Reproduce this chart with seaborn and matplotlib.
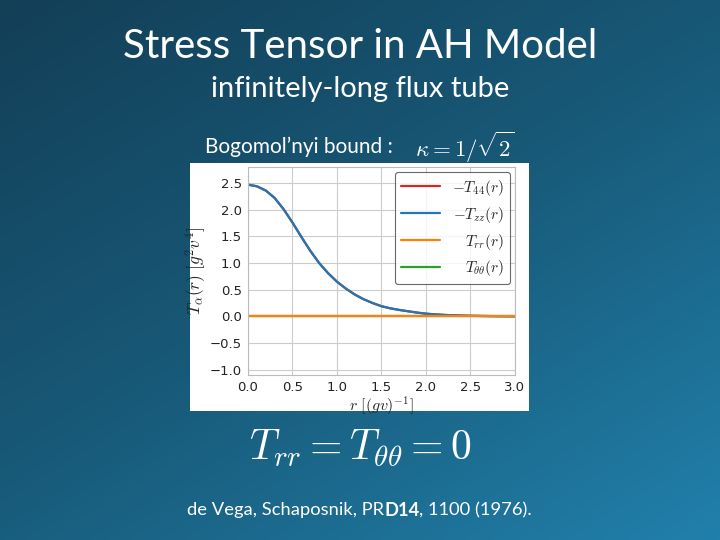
import numpy as np
import matplotlib
matplotlib.use("Agg")
import matplotlib.pyplot as plt
from matplotlib.colors import LinearSegmentedColormap
import seaborn as sns

# ── data ──────────────────────────────────────────────────────────────────────
r_vals = [0.0, 0.1, 0.2, 0.3, 0.4, 0.5, 0.6, 0.7, 0.8, 0.9, 1.0,
          1.1, 1.2, 1.3, 1.4, 1.5, 1.6, 1.7, 1.8, 1.9, 2.0,
          2.1, 2.2, 2.3, 2.4, 2.5, 2.6, 2.7, 2.8, 2.9, 3.0]
minus_t44 = [2.47, 2.44, 2.36, 2.22, 2.01, 1.76, 1.49, 1.23, 1.00, 0.81, 0.65,
             0.52, 0.41, 0.32, 0.25, 0.19, 0.15, 0.12, 0.095, 0.07, 0.05,
             0.037, 0.027, 0.02, 0.014, 0.01, 0.007, 0.005, 0.003, 0.002, 0.001]
minus_tzz = list(minus_t44)
t_rr = [0.0] * len(r_vals)
t_thth = [0.0] * len(r_vals)

labels = [r"$-T_{44}(r)$", r"$-T_{zz}(r)$", r"$T_{rr}(r)$", r"$T_{\theta\theta}(r)$"]
colors = ["#d62728", "#1f77b4", "#ff7f0e", "#2ca02c"]
yticks = [-1.0, -0.5, 0.0, 0.5, 1.0, 1.5, 2.0, 2.5]
xticks = [0.0, 0.5, 1.0, 1.5, 2.0, 2.5, 3.0]

sns.set_style("whitegrid")
plt.rcParams["mathtext.fontset"] = "cm"

fig = plt.figure(figsize=(7.2, 5.4), dpi=100)
renderer = fig.canvas.get_renderer()

# ── slide background gradient ─────────────────────────────────────────────────
bg = fig.add_axes([0, 0, 1, 1], zorder=-10)
cmap = LinearSegmentedColormap.from_list("slide", ["#133f57", "#185a79", "#2180ab"])
yy, xx = np.mgrid[0:1:200j, 0:1:200j]
grad = 0.45 * xx + 0.55 * yy
bg.imshow(grad, cmap=cmap, extent=[0, 1, 0, 1], origin="upper", aspect="auto")
bg.axis("off")

fig.text(0.5, 0.913, "Stress Tensor in AH Model", ha="center", va="center",
         color="white", fontsize=29, family="Lato")
fig.text(0.5, 0.835, "infinitely-long flux tube", ha="center", va="center",
         color="white", fontsize=21, family="Lato")
fig.text(0.285, 0.728, "Bogomol\u2019nyi bound :", ha="left", va="center",
         color="white", fontsize=15, family="Lato")
fig.text(0.577, 0.728, r"$\kappa = 1/\sqrt{2}$", ha="left", va="center",
         color="white", fontsize=16.5)
fig.text(0.5, 0.17, r"$T_{rr} = T_{\theta\theta} = 0$", ha="center", va="center",
         color="white", fontsize=30)

# citation, with the volume in bold, laid out piece by piece
x0 = 0.26
for piece, weight in [("de Vega, Schaposnik, PR", "normal"), ("D14", "bold"),
                      (", 1100 (1976).", "normal")]:
    t = fig.text(x0, 0.055, piece, ha="left", va="center", color="white",
                 fontsize=13.2, family="Lato", fontweight=weight)
    bb = t.get_window_extent(renderer)
    x0 += bb.width / fig.bbox.width

# white panel behind the embedded plot
panel = fig.add_axes([0.2639, 0.2389, 0.4708, 0.459], zorder=1)
panel.set_facecolor("white")
panel.set_xticks([])
panel.set_yticks([])
panel.grid(False)
for s in panel.spines.values():
    s.set_visible(False)

# ── embedded plot ─────────────────────────────────────────────────────────────
ax = fig.add_axes([0.3444, 0.3056, 0.3708, 0.385], zorder=2)
order = [0, 1, 3, 2]   # green drawn under orange
series = [minus_t44, minus_tzz, t_rr, t_thth]
handles = {}
for i in order:
    sns.lineplot(x=r_vals, y=series[i], ax=ax, color=colors[i],
                 linewidth=1.6, label=labels[i])
    handles[i] = ax.get_lines()[-1]

ax.set_xlim(0, 3.0)
ax.set_ylim(-1.1, 2.8)
ax.set_xticks(xticks)
ax.set_yticks(yticks)
ax.tick_params(labelsize=9.5, pad=1, labelcolor="#222222")
ax.grid(color="#cccccc", linewidth=0.8)
for s in ax.spines.values():
    s.set_color("#bbbbbb")
    s.set_linewidth(0.8)
ax.set_xlabel(r"$r\ [(gv)^{-1}]$", fontsize=11.5, labelpad=0)
ax.set_ylabel(r"$T_{\alpha}(r)\ [g^2v^4]$", fontsize=12.5, labelpad=1)

leg = ax.legend([handles[i] for i in range(4)], labels, loc="upper right",
                fontsize=11, frameon=True, fancybox=True, handlelength=2.6,
                handletextpad=0.8, borderpad=0.35, labelspacing=0.45,
                borderaxespad=0.35)
leg.get_frame().set_edgecolor("#444444")
leg.get_frame().set_linewidth(0.8)

# right-align the labels while keeping the handles on the left
widths = [t.get_window_extent(renderer).width for t in leg.get_texts()]
maxw = max(widths)
px_per_pt = fig.dpi / 72.0
rows = leg._legend_handle_box.get_children()[0].get_children()
for row, w in zip(rows, widths):
    row.sep = row.sep + (maxw - w) / px_per_pt

fig.savefig("out.png", dpi=100)
